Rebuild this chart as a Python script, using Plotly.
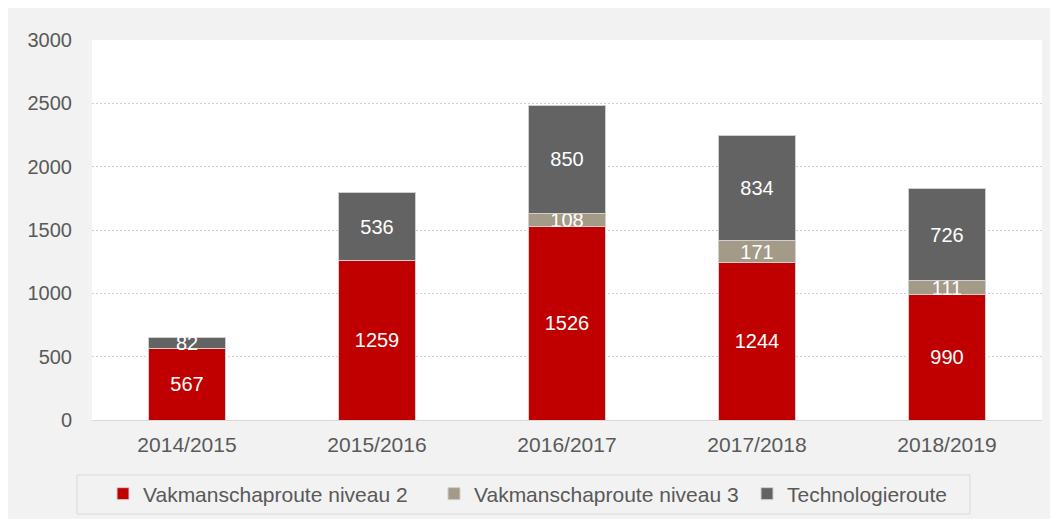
import plotly.graph_objects as go

years = ["2014/2015", "2015/2016", "2016/2017", "2017/2018", "2018/2019"]
niveau2 = [567, 1259, 1526, 1244, 990]
niveau3 = [None, None, 108, 171, 111]
techno = [82, 536, 850, 834, 726]
series_names = ["Vakmanschaproute niveau 2", "Vakmanschaproute niveau 3", "Technologieroute"]
series_colors = ["#c00000", "#a39a88", "#636363"]
y_ticks = [0, 500, 1000, 1500, 2000, 2500, 3000]

FONT = "Liberation Sans, Arial, sans-serif"
# the page body adds an 8px offset; figure coordinates below are in figure pixels
W, H = 1050, 511
L, R, T, B = 84, 16, 32, 99
pw, ph = W - L - R, H - T - B


def px_x(p):
    return (p - L) / pw


def px_y(p):
    return (H - B - p) / ph


legend_ids = ["legend", "legend2", "legend3"]
legend_left = [95, 426, 739]

fig = go.Figure()
for name, vals, col, lg in zip(series_names, [niveau2, niveau3, techno], series_colors, legend_ids):
    fig.add_trace(go.Bar(
        x=years, y=vals, name=name, legend=lg, showlegend=True,
        marker=dict(color=col, line=dict(color="#cfcfcf", width=1)),
        text=[("" if v is None else str(v)) for v in vals],
        textposition="inside", insidetextanchor="middle", constraintext="none",
        textfont=dict(color="white", size=20, family=FONT),
        hoverinfo="skip",
    ))

legend_style = dict(orientation="h", xanchor="left", y=px_y(486), yanchor="middle",
                    bgcolor="rgba(0,0,0,0)", borderwidth=0,
                    font=dict(size=21, color="#595959", family=FONT))
legends = {lg: dict(legend_style, x=px_x(xl)) for lg, xl in zip(legend_ids, legend_left)}

fig.update_layout(
    showlegend=True,
    barmode="stack",
    bargap=0.595,
    width=W, height=H,
    margin=dict(l=L, r=R, t=T, b=B, pad=0, autoexpand=False),
    paper_bgcolor="#f2f2f2",
    plot_bgcolor="white",
    font=dict(family=FONT, size=20, color="#595959"),
    shapes=[
        dict(type="rect", xref="paper", yref="paper", layer="below",
             x0=px_x(69), x1=px_x(962), y0=px_y(506), y1=px_y(467),
             fillcolor="rgba(0,0,0,0)", line=dict(color="#d9d9d9", width=1)),
    ],
    xaxis=dict(showline=True, linecolor="#d9d9d9", linewidth=1, ticks="",
               showgrid=False, ticklabelstandoff=6,
               tickfont=dict(size=21, color="#595959")),
    yaxis=dict(range=[0, 3000], tickvals=y_ticks, showgrid=True, gridcolor="#d0d0d0",
               griddash="2px,2px", gridwidth=1, zeroline=False, ticks="",
               ticklabelstandoff=19, tickfont=dict(size=20, color="#595959")),
    **legends,
)

fig.write_html("out.html")
